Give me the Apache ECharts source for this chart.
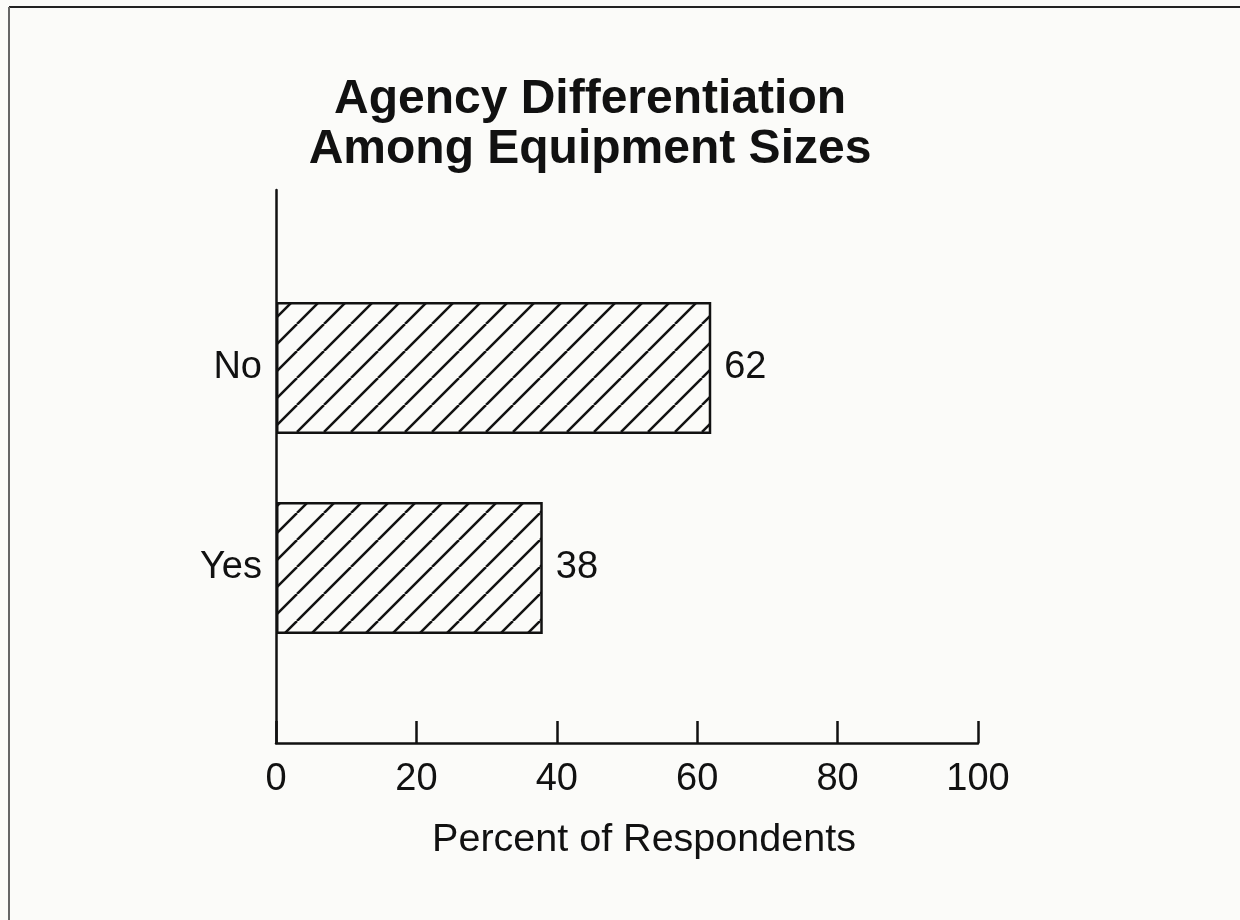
<!DOCTYPE html>
<html>
<head>
<meta charset="utf-8">
<script src="https://cdn.jsdelivr.net/npm/echarts@6/dist/echarts.min.js"></script>
<style>
html,body{margin:0;padding:0;background:#fbfbf9;}
#chart{width:1240px;height:920px;}
</style>
</head>
<body>
<div id="chart"></div>
<script>
const titleLines = ['Agency Differentiation', 'Among Equipment Sizes'];
const categories = ['Yes', 'No'];
const values = [38, 62];
const xTicks = [0, 20, 40, 60, 80, 100];
const axisName = 'Percent of Respondents';

function hatch() {
  const s = 27;
  const c = document.createElement('canvas');
  c.width = s; c.height = s;
  const g = c.getContext('2d');
  g.fillStyle = '#fbfbf9';
  g.fillRect(0, 0, s, s);
  g.strokeStyle = '#111';
  g.lineWidth = 2.5;
  for (let k = -1; k <= 1; k++) {
    g.beginPath();
    g.moveTo(k * s, s);
    g.lineTo(k * s + s, 0);
    g.stroke();
  }
  return c;
}

const font = '"Liberation Sans", Arial, Helvetica, sans-serif';
const chart = echarts.init(document.getElementById('chart'));
chart.setOption({
  backgroundColor: '#fbfbf9',
  animation: false,
  title: {
    text: titleLines.join('\n'),
    left: 585, top: 70, textAlign: 'center',
    textStyle: {fontFamily: font, fontWeight: 'bold', fontSize: 48, lineHeight: 50, color: '#111'}
  },
  graphic: [
    {type: 'line', shape: {x1: 9, y1: 7, x2: 1240, y2: 7}, style: {stroke: '#222', lineWidth: 2}},
    {type: 'line', shape: {x1: 9, y1: 7, x2: 9, y2: 920}, style: {stroke: '#666', lineWidth: 2}}
  ],
  grid: [
    {left: 276, right: 262, top: 190, bottom: 177},
    {left: 276, right: 262, top: 268, bottom: 252}
  ],
  xAxis: [
    {
      gridIndex: 0, type: 'value', min: xTicks[0], max: xTicks[xTicks.length - 1], interval: 20,
      axisLine: {show: true, lineStyle: {color: '#111', width: 2.5}},
      axisTick: {show: true, inside: true, length: 22, lineStyle: {color: '#111', width: 2.5}},
      axisLabel: {fontFamily: font, fontSize: 38, color: '#111', margin: 18},
      splitLine: {show: false},
      name: axisName, nameLocation: 'middle', nameGap: 77,
      nameTextStyle: {fontFamily: font, fontSize: 39.5, color: '#111', padding: [0, 0, 0, 34]}
    },
    {
      gridIndex: 1, type: 'value', min: 0, max: 100, show: false
    }
  ],
  yAxis: [
    {
      gridIndex: 0, type: 'value', min: 0, max: 1,
      axisLine: {show: true, lineStyle: {color: '#111', width: 2.5}},
      axisTick: {show: false}, axisLabel: {show: false}, splitLine: {show: false}
    },
    {
      gridIndex: 1, type: 'category', data: categories,
      axisLine: {show: false}, axisTick: {show: false},
      axisLabel: {fontFamily: font, fontSize: 38, color: '#111', margin: 14}
    }
  ],
  series: [{
    type: 'bar', xAxisIndex: 1, yAxisIndex: 1,
    data: values, barWidth: 132,
    itemStyle: {color: {image: hatch(), repeat: 'repeat'}, borderColor: '#111', borderWidth: 2.5},
    label: {show: true, position: 'right', distance: 13, fontFamily: font, fontSize: 38, color: '#111'}
  }]
});
</script>
</body>
</html>
